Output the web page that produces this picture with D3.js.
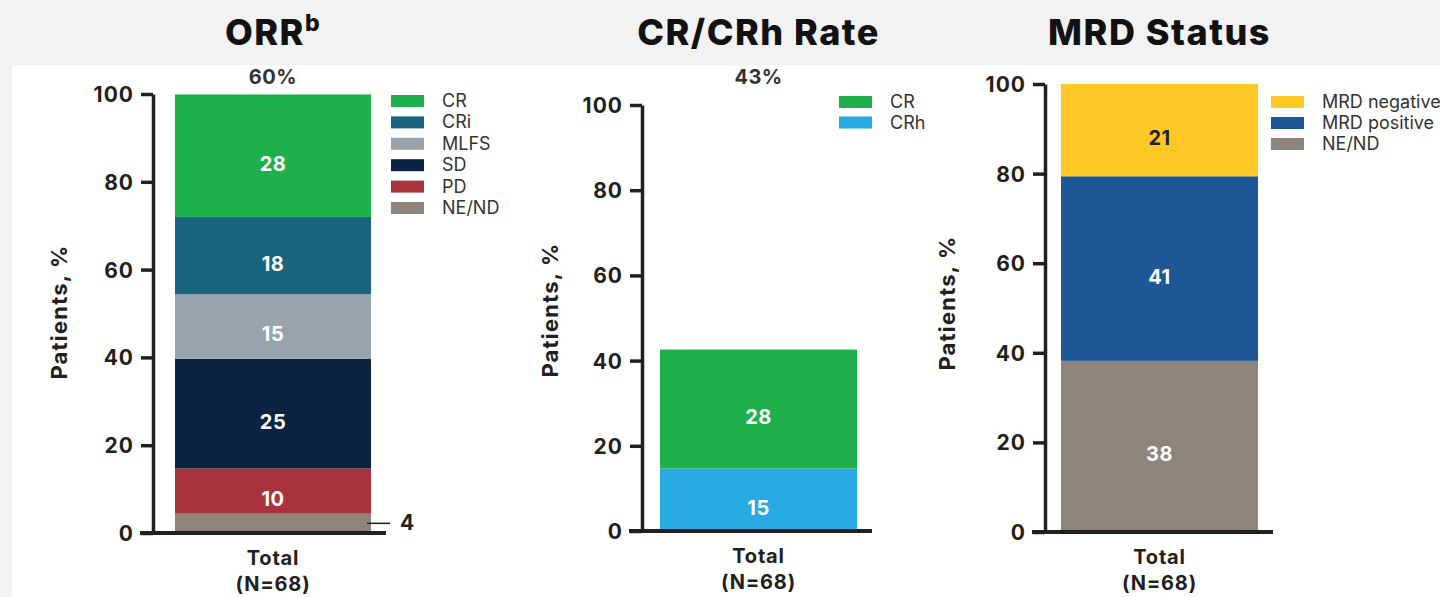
<!DOCTYPE html>
<html><head><meta charset="utf-8">
<script src="https://cdn.jsdelivr.net/npm/d3@7"></script>
<style>
html,body{margin:0;padding:0;background:#f2f2f2;}
svg{display:block;}
text{font-family:Inter,"Open Sans",sans-serif;}
</style></head>
<body>
<svg id="c" width="1440" height="597"></svg>
<script>
// ---- data ----
const yTicks = [0, 20, 40, 60, 80, 100];
const xLabelLines = ["Total", "(N=68)"];
const yAxisTitle = "Patients, %";

const orrCategories = ["CR", "CRi", "MLFS", "SD", "PD", "NE/ND"];
const orrValues = [27.9, 17.6, 14.7, 25.0, 10.3, 4.4];
const orrColors = ["#1db04b", "#19647f", "#97a4ae", "#0b2444", "#a8333c", "#8f847a"];
const orrTotalLabel = "60%";

const crCategories = ["CR", "CRh"];
const crValues = [27.9, 14.7];
const crColors = ["#1db04b", "#27a9e1"];
const crTotalLabel = "43%";

const mrdCategories = ["MRD negative", "MRD positive", "NE/ND"];
const mrdValues = [20.6, 41.2, 38.2];
const mrdColors = ["#fdc826", "#1d5796", "#8f847a"];

const titles = ["ORR", "CR/CRh Rate", "MRD Status"];

// ---- drawing ----
const svg = d3.select("#c");
svg.append("rect").attr("x", 12).attr("y", 65).attr("width", 1428).attr("height", 532).attr("fill", "#fff");

const dark = "#231f20";

function panel(cfg) {
  const g = svg.append("g");
  const y = d3.scaleLinear().domain([0, 100]).range([cfg.y0, cfg.y100]);
  const x = d3.scaleBand().domain(["Total"]).range([cfg.barL, cfg.barR]).paddingInner(0).paddingOuter(0);
  const bx = x("Total"), bw = x.bandwidth();

  const cats = cfg.cats.slice().reverse();
  const vals = cfg.vals.slice().reverse();
  const cols = cfg.colors.slice().reverse();
  let cum = 0;
  const segs = cats.map((c, i) => { const s = {c, v: vals[i], col: cols[i], lo: cum, hi: cum + vals[i]}; cum += vals[i]; return s; });
  g.selectAll("rect.seg").data(segs).join("rect")
    .attr("x", bx).attr("width", bw)
    .attr("y", d => y(d.hi)).attr("height", d => y(d.lo) - y(d.hi))
    .attr("fill", d => d.col);
  g.selectAll("text.val").data(segs.filter(d => d.v > 6)).join("text")
    .attr("x", bx + bw / 2).attr("y", d => y((d.lo + d.hi) / 2) + 15)
    .attr("text-anchor", "middle").attr("font-size", 20).attr("font-weight", 700).attr("letter-spacing", 0.5)
    .attr("fill", d => d.col === "#fdc826" ? dark : "#fff")
    .text(d => Math.round(d.v));
  segs.filter(d => d.v <= 6).forEach(d => {
    const ym = y((d.lo + d.hi) / 2);
    g.append("line").attr("x1", bx + bw - 4).attr("x2", bx + bw + 19).attr("y1", ym).attr("y2", ym).attr("stroke", dark).attr("stroke-width", 1.5);
    g.append("text").attr("x", bx + bw + 29).attr("y", ym + 7).attr("font-size", 21).attr("font-weight", 700).attr("fill", dark).text(Math.round(d.v));
  });

  const ax = g.append("g").attr("transform", `translate(${cfg.axX},0)`)
    .call(d3.axisLeft(y).tickValues(yTicks).tickSize(12).tickSizeOuter(0).tickPadding(7));
  ax.select(".domain").attr("stroke", dark).attr("stroke-width", 3.5);
  ax.selectAll(".tick line").attr("stroke", dark).attr("stroke-width", 3.5);
  ax.selectAll(".tick text").attr("font-size", 21).attr("font-weight", 700).attr("fill", dark)
    .attr("letter-spacing", 1).attr("font-family", "Inter, sans-serif").attr("dy", "0.36em");
  g.append("line").attr("x1", cfg.axX - 13).attr("x2", cfg.barR + 15)
    .attr("y1", y(0)).attr("y2", y(0)).attr("stroke", dark).attr("stroke-width", 4);

  const cx = bx + bw / 2;
  xLabelLines.forEach((t, i) => g.append("text").attr("x", cx).attr("y", cfg.y0 + 32 + i * 26)
    .attr("text-anchor", "middle").attr("font-size", 20).attr("font-weight", 700).attr("letter-spacing", 0.8)
    .attr("fill", dark).text(t));

  g.append("text").attr("transform", `translate(${cfg.ytX},${cfg.ytY}) rotate(-90)`)
    .attr("text-anchor", "middle").attr("font-size", 22).attr("font-weight", 700).attr("letter-spacing", 1.2)
    .attr("fill", dark).text(yAxisTitle);

  if (cfg.total) g.append("text").attr("x", cx).attr("y", 84).attr("text-anchor", "middle")
    .attr("font-size", 20).attr("font-weight", 700).attr("letter-spacing", 0.5).attr("fill", "#333").text(cfg.total);

  const tt = g.append("text").attr("x", cx).attr("y", 45).attr("text-anchor", "middle")
    .attr("font-size", 36).attr("font-weight", 800).attr("fill", "#111").attr("letter-spacing", 1.5);
  tt.append("tspan").text(cfg.title);
  if (cfg.sup) tt.append("tspan").attr("font-size", 23).attr("dy", -14).text(cfg.sup);

  const lg = g.append("g");
  cfg.cats.forEach((c, i) => {
    const yy = cfg.legY + i * cfg.legStep;
    lg.append("rect").attr("x", cfg.legX).attr("y", yy - 6).attr("width", 33).attr("height", 12).attr("fill", cfg.colors[i]);
    lg.append("text").attr("x", cfg.legX + 51).attr("y", yy + 6).attr("font-size", 18).attr("fill", "#333").text(c);
  });
}

panel({title: titles[0], sup: "b", cats: orrCategories, vals: orrValues, colors: orrColors, total: orrTotalLabel,
  y0: 533, y100: 94, barL: 175, barR: 371, axX: 153, ytX: 67, ytY: 312,
  legX: 391, legY: 101, legStep: 21.4});
panel({title: titles[1], cats: crCategories, vals: crValues, colors: crColors, total: crTotalLabel,
  y0: 531, y100: 105, barL: 660, barR: 857, axX: 642, ytX: 558, ytY: 310,
  legX: 839, legY: 102, legStep: 20.5});
panel({title: titles[2], cats: mrdCategories, vals: mrdValues, colors: mrdColors, total: null,
  y0: 532, y100: 84, barL: 1061, barR: 1258, axX: 1045, ytX: 955, ytY: 303,
  legX: 1271, legY: 102, legStep: 21});
</script>
</body></html>
